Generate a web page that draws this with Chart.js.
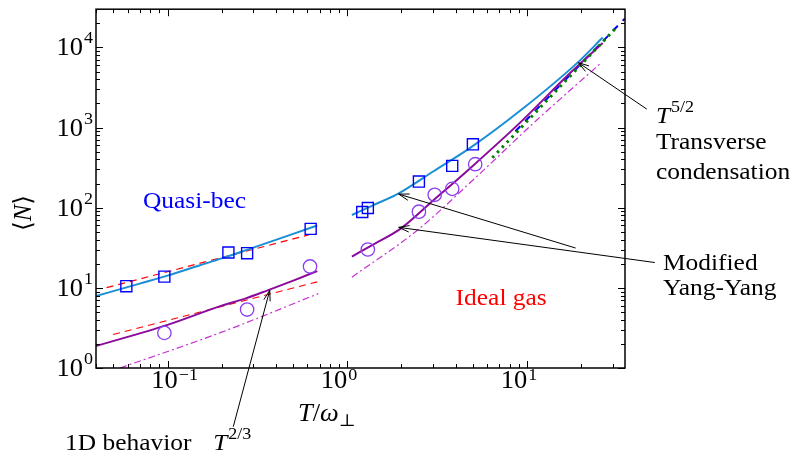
<!DOCTYPE html>
<html><head><meta charset="utf-8">
<script src="https://cdn.jsdelivr.net/npm/chart.js@4"></script>
<style>html,body{margin:0;padding:0;background:#fff}#wrap{width:792px;height:454px;position:relative}</style>
</head><body><div id="wrap"><canvas id="c"></canvas></div>
<script>
// ---- axes ----
const xRange = [0.04, 35];
const yRange = [1, 30000];
const xTickValues = [0.1, 1, 10];
const xTickExps = ['\u22121', '0', '1'];
const yTickValues = [1, 10, 100, 1000, 10000];
const yTickExps = ['0', '1', '2', '3', '4'];

// ---- markers ----
const squareT = [0.059, 0.096, 0.218, 0.277, 0.625, 1.21, 1.30, 2.50, 3.83, 4.99];
const squareN = [10.5, 13.8, 27.6, 27.1, 54.4, 88.4, 99.1, 212, 333, 618];
const circleT = [0.096, 0.277, 0.62, 1.30, 2.50, 3.06, 3.83, 5.14];
const circleN = [2.74, 5.36, 18.5, 30.1, 89.2, 145, 172, 349];

// ---- Modified Yang-Yang curves ----
const cyanLowT = [0.04, 0.07, 0.1, 0.15, 0.2, 0.3, 0.4, 0.5, 0.68];
const cyanLowN = [7.9, 11.3, 14.2, 19.0, 23.3, 31.8, 39.7, 47.2, 60];
const cyanHighT = [1.06, 1.4, 1.93, 3.0, 4.84, 9.2, 19.4, 26.3];
const cyanHighN = [81.2, 108, 151, 283, 561, 1641, 6700, 13300];
const purpleLowT = [0.04, 0.1, 0.2, 0.27, 0.36, 0.5, 0.68];
const purpleLowN = [1.88, 3.45, 6.0, 7.34, 9.3, 12.3, 16.2];
const purpleHighT = [1.06, 1.4, 1.97, 3.0, 4.84, 9.2, 17.5, 26.3];
const purpleHighN = [24.6, 35, 54.4, 123, 314, 1170, 4890, 11370];

// ---- T^{2/3} fits (red dashed) ----
const redUpperT = [0.0458, 0.609];
const redUpperN = [10.06, 45.8];
const redLowerT = [0.0498, 0.68];
const redLowerN = [2.62, 11.9];

// ---- ideal gas (magenta dash-dot) ----
const idealLowT = [0.0544, 0.2, 0.69];
const idealLowN = [1.0, 2.8, 8.47];
const idealHighT = [1.06, 2.44, 5.17, 11.4, 25.7];
const idealHighN = [13.6, 52, 238, 1260, 6380];

// ---- T^{5/2} (green dotted) and transverse condensation (blue dashed) ----
const t52T = [6.4, 31.1];
const t52N = [420, 17400];
const transT = [8.6, 34.9];
const transN = [900, 22900];

// ---- annotations (data coordinates) ----
const labelTexts = ['Quasi-bec', 'Ideal gas', 'Transverse', 'condensation', 'Modified', 'Yang-Yang', '1D behavior'];
const labelColors = ['#0000ff', '#ff0000', '#000', '#000', '#000', '#000', '#000'];
const labelT = [0.073, 4.0, 52.0, 52.0, 56.9, 56.9, 0.0269];
const labelN = [100, 6.06, 541, 229, 16.5, 8.07, 0.0958];
const powerBase = ['T', 'T'];
const powerExp = ['5/2', '2/3'];
const powerT = [52.0, 0.1793];
const powerN = [1137, 0.0958];
const arrowTailT = [46.3, 18.6, 51.3, 0.232];
const arrowTailN = [1698, 31.4, 20.7, 0.185];
const arrowTipT = [19.3, 1.93, 1.93, 0.370];
const arrowTipN = [6446, 148, 56.9, 9.31];

const FONT = '"Liberation Serif", "Times New Roman", "DejaVu Serif", serif';
const SX = 1.06;

function drawText(ctx, s, x, y, size, o) {
  o = o || {};
  ctx.save();
  ctx.font = (o.italic ? 'italic ' : '') + size + 'px ' + FONT;
  const w = ctx.measureText(s).width * SX;
  const x0 = o.align === 'right' ? x - w : (o.align === 'center' ? x - w / 2 : x);
  ctx.translate(x0, y);
  ctx.scale(SX, 1);
  ctx.fillStyle = o.color || '#000';
  ctx.textAlign = 'left';
  ctx.textBaseline = 'alphabetic';
  ctx.fillText(s, 0, 0);
  ctx.restore();
  return w;
}
function measure(ctx, s, size) {
  ctx.save(); ctx.font = size + 'px ' + FONT;
  const w = ctx.measureText(s).width * SX; ctx.restore(); return w;
}
function seg(ctx, x1, y1, x2, y2) { ctx.beginPath(); ctx.moveTo(x1, y1); ctx.lineTo(x2, y2); ctx.stroke(); }

const decor = {
  id: 'decor',
  afterDraw(chart) {
    const ctx = chart.ctx, a = chart.chartArea, xs = chart.scales.x, ys = chart.scales.y;
    ctx.save();
    ctx.strokeStyle = '#000';
    ctx.lineWidth = 1;
    // ticks (inward, all four sides)
    for (let e = -2; e <= 2; e++) for (let m = 1; m <= 9; m++) {
      const v = m * Math.pow(10, e);
      if (v < xRange[0] * 0.999 || v > xRange[1] * 1.001) continue;
      const px = Math.round(xs.getPixelForValue(v)) + 0.5;
      const L = m === 1 ? 7 : 4;
      seg(ctx, px, a.bottom, px, a.bottom - L);
      seg(ctx, px, a.top, px, a.top + L);
    }
    for (let e = 0; e <= 4; e++) for (let m = 1; m <= 9; m++) {
      const v = m * Math.pow(10, e);
      if (v < yRange[0] * 0.999 || v > yRange[1] * 1.001) continue;
      const py = Math.round(ys.getPixelForValue(v)) + 0.5;
      const L = m === 1 ? 7 : 4;
      seg(ctx, a.left, py, a.left + L, py);
      seg(ctx, a.right, py, a.right - L, py);
    }
    // box
    ctx.lineWidth = 1.5;
    ctx.strokeRect(a.left, a.top, a.right - a.left, a.bottom - a.top);
    // tick labels
    xTickValues.forEach((v, i) => {
      const exp = xTickExps[i];
      const shift = exp.charAt(0) === '\u2212' ? measure(ctx, '\u2212', 17) : 0;
      const px = xs.getPixelForValue(v) + shift;
      drawText(ctx, '10', px, a.bottom + 20, 25, { align: 'right' });
      drawText(ctx, exp, px + 1, a.bottom + 12, 17);
    });
    yTickValues.forEach((v, i) => {
      const py = ys.getPixelForValue(v);
      const w = drawText(ctx, yTickExps[i], a.left - 3, py - 4, 17, { align: 'right' });
      drawText(ctx, '10', a.left - 4 - w, py + 8, 25, { align: 'right' });
    });
    // axis titles
    let x = 298, y = a.bottom + 53;
    x += drawText(ctx, 'T', x, y, 25, { italic: true });
    x += drawText(ctx, '/', x, y, 25);
    x += drawText(ctx, '\u03C9', x, y, 25, { italic: true });
    drawText(ctx, '\u22A5', x, y + 5, 17);
    ctx.save();
    ctx.translate(31, 213);
    ctx.rotate(-Math.PI / 2);
    ctx.font = '25px ' + FONT;
    const w1 = ctx.measureText('\u27E8').width;
    ctx.font = 'italic 25px ' + FONT;
    const w2 = ctx.measureText('N').width;
    ctx.font = '25px ' + FONT;
    const w3 = ctx.measureText('\u27E9').width;
    let sx = -(w1 + w2 + w3) / 2;
    ctx.fillStyle = '#000';
    ctx.fillText('\u27E8', sx, 0); sx += w1;
    ctx.font = 'italic 25px ' + FONT; ctx.fillText('N', sx, 0); sx += w2;
    ctx.font = '25px ' + FONT; ctx.fillText('\u27E9', sx, 0);
    ctx.restore();
    // text labels
    labelTexts.forEach((s, i) => {
      drawText(ctx, s, xs.getPixelForValue(labelT[i]), ys.getPixelForValue(labelN[i]), 24, { color: labelColors[i] });
    });
    powerBase.forEach((s, i) => {
      const px = xs.getPixelForValue(powerT[i]), py = ys.getPixelForValue(powerN[i]);
      const w = drawText(ctx, s, px, py, 24, { italic: true });
      drawText(ctx, powerExp[i], px + w + 1, py - 11, 17);
    });
    // arrows
    ctx.lineWidth = 1;
    ctx.strokeStyle = '#000';
    arrowTailT.forEach((t, i) => {
      const x1 = xs.getPixelForValue(t), y1 = ys.getPixelForValue(arrowTailN[i]);
      const x2 = xs.getPixelForValue(arrowTipT[i]), y2 = ys.getPixelForValue(arrowTipN[i]);
      seg(ctx, x1, y1, x2, y2);
      const ang = Math.atan2(y1 - y2, x1 - x2), L = 11, h = 0.3;
      seg(ctx, x2, y2, x2 + L * Math.cos(ang + h), y2 + L * Math.sin(ang + h));
      seg(ctx, x2, y2, x2 + L * Math.cos(ang - h), y2 + L * Math.sin(ang - h));
    });
    ctx.restore();
  }
};

const pts = (T, N) => T.map((t, i) => ({ x: t, y: N[i] }));
const line = (T, N, color, width, dash, extra) => Object.assign({
  data: pts(T, N), showLine: true, pointRadius: 0, borderColor: color, backgroundColor: color,
  borderWidth: width, borderDash: dash, fill: false, tension: 0
}, extra || {});

// first dataset is drawn on top
const datasets = [
  { data: pts(squareT, squareN), pointStyle: 'rect', pointRadius: 7.8, borderColor: '#0000ff',
    backgroundColor: 'rgba(0,0,0,0)', borderWidth: 1.4, pointBorderWidth: 1.4, showLine: false },
  { data: pts(circleT, circleN), pointStyle: 'circle', pointRadius: 6.7, borderColor: '#8a3ef0',
    backgroundColor: 'rgba(0,0,0,0)', borderWidth: 1.3, pointBorderWidth: 1.3, showLine: false },
  line(cyanLowT, cyanLowN, '#1a8fd5', 2, [], { cubicInterpolationMode: 'monotone' }),
  line(cyanHighT, cyanHighN, '#1a8fd5', 2, [], { cubicInterpolationMode: 'monotone' }),
  line(t52T, t52N, '#008000', 3, [2.5, 4.5]),
  line(purpleLowT, purpleLowN, '#8b0a9b', 2, [], { cubicInterpolationMode: 'monotone' }),
  line(purpleHighT, purpleHighN, '#8b0a9b', 2, [], { cubicInterpolationMode: 'monotone' }),
  line(redUpperT, redUpperN, '#ff0000', 1.2, [7, 5]),
  line(redLowerT, redLowerN, '#ff0000', 1.2, [7, 5]),
  line(idealLowT, idealLowN, '#c832d2', 1.2, [7, 3, 2, 3], { cubicInterpolationMode: 'monotone' }),
  line(idealHighT, idealHighN, '#c832d2', 1.2, [7, 3, 2, 3], { cubicInterpolationMode: 'monotone' }),
  line(transT, transN, '#0000ff', 2, [7, 7])
];

new Chart(document.getElementById('c'), {
  type: 'scatter',
  data: { datasets },
  options: {
    animation: false,
    responsive: true,
    maintainAspectRatio: false,
    events: [],
    layout: { padding: { left: 96, top: 8, right: 167, bottom: 86 } },
    plugins: { legend: { display: false }, tooltip: { enabled: false } },
    scales: {
      x: { type: 'logarithmic', min: xRange[0], max: xRange[1], display: false },
      y: { type: 'logarithmic', min: yRange[0], max: yRange[1], display: false }
    }
  },
  plugins: [decor]
});
</script></body></html>
